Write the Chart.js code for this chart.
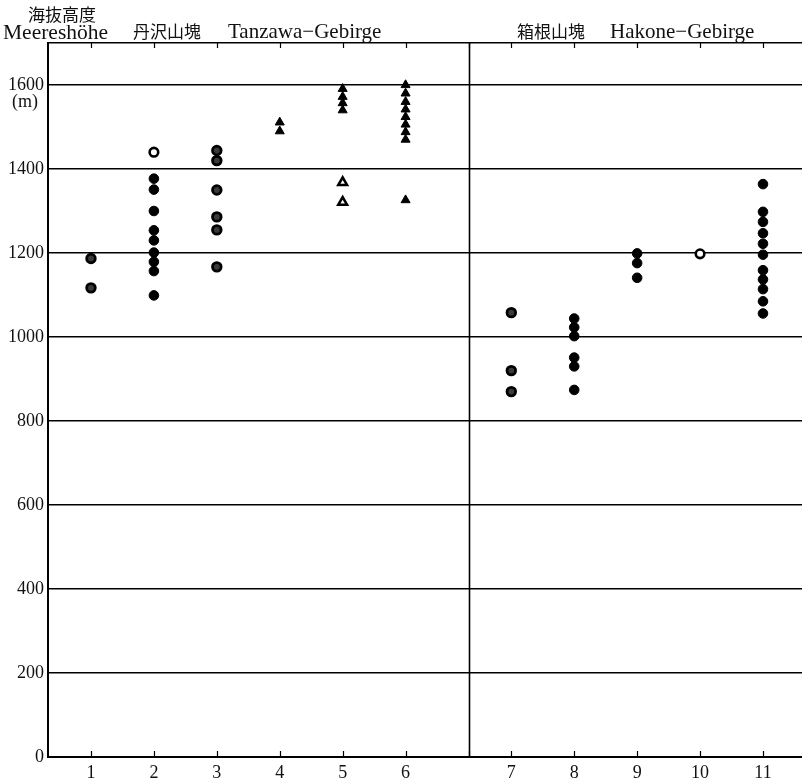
<!DOCTYPE html>
<html>
<head>
<meta charset="utf-8">
<script src="https://cdn.jsdelivr.net/npm/chart.js@4/dist/chart.umd.min.js"></script>
<style>
  html, body { margin: 0; padding: 0; background: #fff; }
  #wrap { width: 802px; height: 783px; }
</style>
</head>
<body>
<div id="wrap"><canvas id="chart" width="802" height="783"></canvas></div>
<script>
// ─── Data ─────────────────────────────────────────────
const siteLabels = ['1', '2', '3', '4', '5', '6', '7', '8', '9', '10', '11']
const yTickValues = [0, 200, 400, 600, 800, 1000, 1200, 1400, 1600]

// [site, height in m]
const filledCircles = [
  [2, 1377], [2, 1351], [2, 1300], [2, 1254], [2, 1230], [2, 1201], [2, 1179], [2, 1157], [2, 1099],
  [8, 1044], [8, 1023], [8, 1002], [8, 951], [8, 930], [8, 874],
  [9, 1199], [9, 1176], [9, 1141],
  [11, 1364], [11, 1298], [11, 1274], [11, 1247], [11, 1222], [11, 1196],
  [11, 1159], [11, 1137], [11, 1114], [11, 1085], [11, 1056]
]
const dottedCircles = [
  [1, 1187], [1, 1117],
  [3, 1444], [3, 1420], [3, 1350], [3, 1286], [3, 1255], [3, 1167],
  [7, 1058], [7, 920], [7, 870]
]
const openCircles = [
  [2, 1440],
  [10, 1198]
]
const filledTriangles = [
  [4, 1511], [4, 1490],
  [5, 1591], [5, 1572], [5, 1557], [5, 1540],
  [6, 1600], [6, 1580], [6, 1560], [6, 1542], [6, 1524], [6, 1506], [6, 1488], [6, 1470], [6, 1326]
]
const openTriangles = [
  [5, 1368], [5, 1321]
]

// ─── Helpers ──────────────────────────────────────────
const DIVIDER = 7            // boundary between the two mountain groups
const GAP     = 0.68         // extra space after site 6
const siteX = s => (s <= 6 ? s : s + GAP)
const toPoints = list => list.map(([s, m]) => ({ x: siteX(s), y: m }))

const SERIF = '"Liberation Serif", "DejaVu Serif", serif'
const CJK   = '"Noto Sans CJK JP", sans-serif'

// ─── Decorations plugin ───────────────────────────────
const decorations = {
  id: 'decorations',
  afterDatasetsDraw(chart) {
    const { ctx, chartArea: a, scales: { x } } = chart
    ctx.save()
    ctx.strokeStyle = '#000'

    // divider line
    const dx = Math.round(x.getPixelForValue(DIVIDER)) + 0.5
    ctx.lineWidth = 1.6
    ctx.beginPath()
    ctx.moveTo(dx, a.top)
    ctx.lineTo(dx, a.bottom)
    ctx.stroke()

    // inward tick marks at top and bottom
    ctx.lineWidth = 1.2
    const marks = x.ticks.map(t => t.value).concat([DIVIDER])
    marks.forEach(v => {
      const px = Math.round(x.getPixelForValue(v)) + 0.5
      ctx.beginPath()
      ctx.moveTo(px, a.bottom)
      ctx.lineTo(px, a.bottom - 6)
      ctx.moveTo(px, a.top)
      ctx.lineTo(px, a.top + 5)
      ctx.stroke()
    })
    ctx.restore()
  },
  afterDraw(chart) {
    const { ctx } = chart
    ctx.save()
    ctx.fillStyle = '#111'
    ctx.textBaseline = 'alphabetic'

    ctx.font = '17px ' + CJK
    ctx.fillText('海抜高度', 28, 21)
    ctx.fillText('丹沢山塊', 133, 38)
    ctx.fillText('箱根山塊', 517, 38)

    ctx.font = '21px ' + SERIF
    ctx.fillText('Tanzawa\u2212Gebirge', 228, 38)
    ctx.fillText('Hakone\u2212Gebirge', 610, 38)
    ctx.font = '21.5px ' + SERIF
    ctx.fillText('Meereshöhe', 3, 39)

    ctx.font = '18px ' + SERIF
    ctx.textAlign = 'center'
    ctx.fillText('(m)', 25, 107)
    ctx.restore()
  }
}

// ─── Chart ────────────────────────────────────────────
const ptBase = { showLine: false, borderColor: '#000', pointHoverRadius: 5 }

new Chart(document.getElementById('chart'), {
  type: 'scatter',
  data: {
    datasets: [
      { ...ptBase, label: 'filled circle', data: toPoints(filledCircles),
        pointStyle: 'circle', pointRadius: 4.8, pointBackgroundColor: '#000', pointBorderWidth: 1 },
      { ...ptBase, label: 'dotted circle', data: toPoints(dottedCircles),
        pointStyle: 'circle', pointRadius: 4.3, pointBackgroundColor: '#3a3a3a', pointBorderColor: '#000', pointBorderWidth: 2.8 },
      { ...ptBase, label: 'open circle', data: toPoints(openCircles),
        pointStyle: 'circle', pointRadius: 4.3, pointBackgroundColor: '#fff', pointBorderColor: '#000', pointBorderWidth: 2.6 },
      { ...ptBase, label: 'filled triangle', data: toPoints(filledTriangles),
        pointStyle: 'triangle', pointRadius: 5.2, pointBackgroundColor: '#000', pointBorderWidth: 1 },
      { ...ptBase, label: 'open triangle', data: toPoints(openTriangles),
        pointStyle: 'triangle', pointRadius: 5, pointBackgroundColor: '#fff', pointBorderColor: '#000', pointBorderWidth: 2.6 }
    ]
  },
  options: {
    responsive: false,
    animation: false,
    layout: { autoPadding: false, padding: { top: 43, right: 0, left: 0, bottom: 0 } },
    plugins: { legend: { display: false }, tooltip: { enabled: false } },
    scales: {
      x: {
        type: 'linear',
        min: 0.317,
        max: 12.3,
        afterBuildTicks: scale => {
          scale.ticks = siteLabels.map((_, i) => ({ value: siteX(i + 1) }))
        },
        afterFit: scale => {
          scale.height = 26
          scale.paddingLeft = 0
          scale.paddingRight = 0
        },
        ticks: {
          color: '#111',
          font: { family: SERIF, size: 18 },
          padding: 5,
          maxRotation: 0,
          autoSkip: false,
          callback: (v, i) => siteLabels[i]
        },
        grid: { display: false, drawTicks: false },
        border: { display: true, color: '#000', width: 2 }
      },
      y: {
        min: 0,
        max: 1700,
        afterBuildTicks: scale => {
          scale.ticks = yTickValues.map(v => ({ value: v })).concat([{ value: 1700 }])
        },
        afterFit: scale => {
          scale.width = 48
          scale.paddingTop = 0
          scale.paddingBottom = 0
        },
        ticks: {
          color: '#111',
          font: { family: SERIF, size: 18 },
          padding: 4,
          callback: v => (yTickValues.includes(v) ? String(v) : '')
        },
        grid: { color: '#000', lineWidth: 1.5, drawTicks: false },
        border: { display: true, color: '#000', width: 2 }
      }
    }
  },
  plugins: [decorations]
})
</script>
</body>
</html>
